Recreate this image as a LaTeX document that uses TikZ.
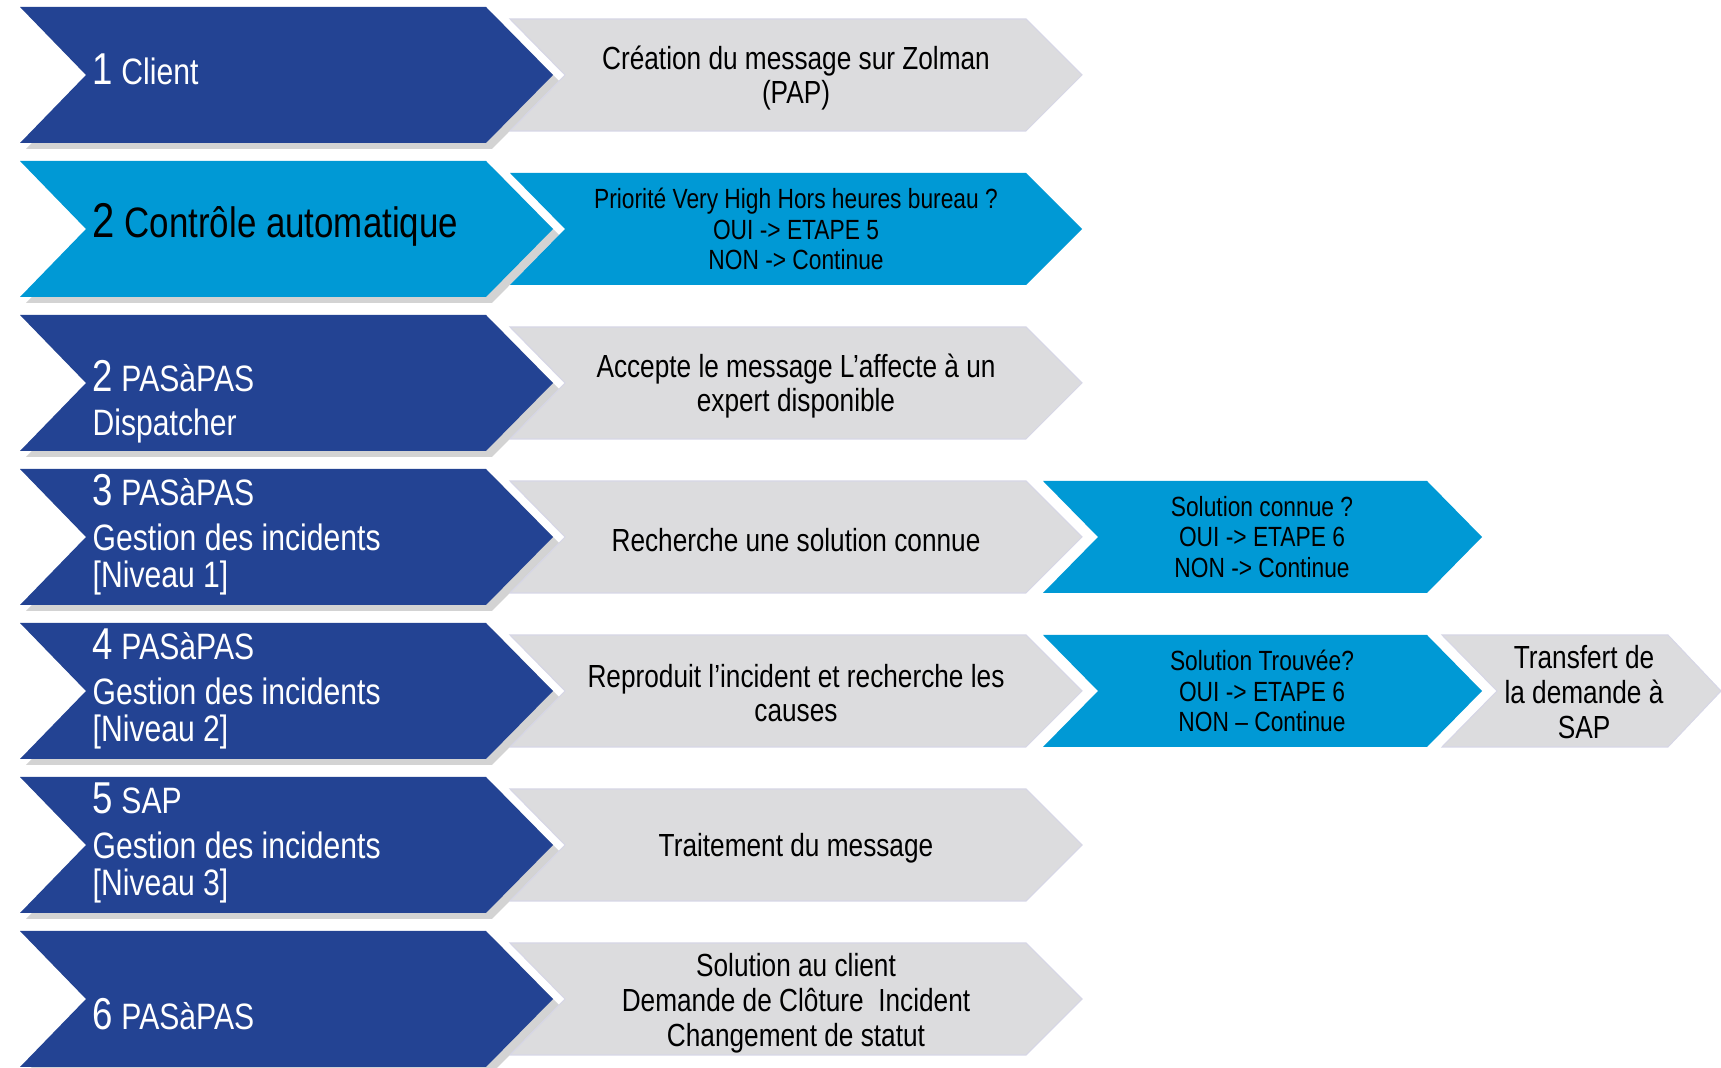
\documentclass[tikz,border=0pt]{standalone}
\usepackage{fontspec}
\setmainfont[FakeStretch=0.82]{Liberation Sans}
\usetikzlibrary{shadows}
\definecolor{darkblue}{RGB}{35,67,147}
\definecolor{lightblue}{RGB}{0,153,213}
\definecolor{lightgray}{RGB}{220,220,222}
\definecolor{grayedge}{RGB}{214,214,230}
\newcommand{\stepnum}[1]{{\fontsize{12.7}{10.6}\selectfont #1}}
\tikzset{
  darkarrow/.style={fill=darkblue, drop shadow={shadow xshift=0.6mm, shadow yshift=-0.6mm, opacity=0.35}},
  bluearrow/.style={fill=lightblue},
  grayarrow/.style={fill=lightgray, draw=grayedge, line width=0.3pt},
  steplabel/.style={anchor=base west, align=left, inner sep=0pt, text=white,
    font=\fontsize{10.45}{10.6}\selectfont},
  graytext/.style={align=center, inner sep=0pt, font=\fontsize{9.1}{9.9}\selectfont},
  bluetext/.style={align=center, inner sep=0pt, font=\fontsize{7.9}{8.6}\selectfont}
}
\begin{document}
\begin{tikzpicture}[x=0.1mm, y=-0.1mm]
\useasboundingbox (0,0) rectangle (1721,1068);
% left column
\fill[darkarrow] (20,7) -- (486,7) -- (553,75) -- (486,143) -- (20,143) -- (86,75) -- cycle;
\fill[darkarrow, fill=lightblue] (20,161) -- (486,161) -- (553,229) -- (486,297) -- (20,297) -- (86,229) -- cycle;
\fill[darkarrow] (20,315) -- (486,315) -- (553,383) -- (486,451) -- (20,451) -- (86,383) -- cycle;
\fill[darkarrow] (20,469) -- (486,469) -- (553,537) -- (486,605) -- (20,605) -- (86,537) -- cycle;
\fill[darkarrow] (20,623) -- (486,623) -- (553,691) -- (486,759) -- (20,759) -- (86,691) -- cycle;
\fill[darkarrow] (20,777) -- (486,777) -- (553,845) -- (486,913) -- (20,913) -- (86,845) -- cycle;
\fill[darkarrow] (20,931) -- (486,931) -- (553,999) -- (486,1067) -- (20,1067) -- (86,999) -- cycle;
% middle column
\filldraw[grayarrow] (510,19) -- (1026,19) -- (1082,75) -- (1026,131) -- (510,131) -- (565,75) -- cycle;
\fill[bluearrow] (510,173) -- (1026,173) -- (1082,229) -- (1026,285) -- (510,285) -- (565,229) -- cycle;
\filldraw[grayarrow] (510,327) -- (1026,327) -- (1082,383) -- (1026,439) -- (510,439) -- (565,383) -- cycle;
\filldraw[grayarrow] (510,481) -- (1026,481) -- (1082,537) -- (1026,593) -- (510,593) -- (565,537) -- cycle;
\filldraw[grayarrow] (510,635) -- (1026,635) -- (1082,691) -- (1026,747) -- (510,747) -- (565,691) -- cycle;
\filldraw[grayarrow] (510,789) -- (1026,789) -- (1082,845) -- (1026,901) -- (510,901) -- (565,845) -- cycle;
\filldraw[grayarrow] (510,943) -- (1026,943) -- (1082,999) -- (1026,1055) -- (510,1055) -- (565,999) -- cycle;
% right columns
\fill[bluearrow] (1043,481) -- (1427,481) -- (1482,537) -- (1427,593) -- (1043,593) -- (1098,537) -- cycle;
\fill[bluearrow] (1043,635) -- (1427,635) -- (1482,691) -- (1427,747) -- (1043,747) -- (1098,691) -- cycle;
\filldraw[grayarrow] (1442,635) -- (1668,635) -- (1721,691) -- (1668,747) -- (1442,747) -- (1497,691) -- cycle;
% step labels (base = last line)
\node[steplabel] (client) at (92,85) {\stepnum{1} Client};
\node[steplabel, text=black, font=\fontsize{12.1}{12}\selectfont] (controle) at (92,238)
  {{\fontsize{13.9}{12}\selectfont 2} Contrôle automatique};
\node[steplabel] (dispatch) at (92,436) {\stepnum{2} PASàPAS\\[2.2pt]Dispatcher};
\node[steplabel] (niveau1) at (92,588) {\stepnum{3} PASàPAS\\[2.2pt]Gestion des incidents\\{}[Niveau 1]};
\node[steplabel] (niveau2) at (92,742) {\stepnum{4} PASàPAS\\[2.2pt]Gestion des incidents\\{}[Niveau 2]};
\node[steplabel] (niveau3) at (92,896) {\stepnum{5} SAP\\[2.2pt]Gestion des incidents\\{}[Niveau 3]};
\node[steplabel] (solution) at (92,1030) {\stepnum{6} PASàPAS};
% actions
\node[graytext] (creation) at (796,78) {Création du message sur Zolman\\(PAP)};
\node[bluetext] (priorite) at (796,229) {Priorité Very High Hors heures bureau ?\\OUI -> ETAPE 5\\NON -> Continue};
\node[graytext] (accepte) at (796,386) {Accepte le message L’affecte à un\\expert disponible};
\node[graytext] (recherche) at (796,540) {Recherche une solution connue};
\node[graytext] (reproduit) at (796,693) {Reproduit l’incident et recherche les\\causes};
\node[graytext] (traitement) at (796,848) {Traitement du message};
\node[graytext] (cloture) at (796,1003) {Solution au client\\Demande de Clôture~~Incident\\Changement de statut};
\node[bluetext] (connue) at (1262,537) {Solution connue ?\\OUI -> ETAPE 6\\NON -> Continue};
\node[bluetext] (trouvee) at (1262,691) {Solution Trouvée?\\OUI -> ETAPE 6\\NON – Continue};
\node[graytext] (transfert) at (1584,692) {Transfert de\\la demande à\\SAP};
\end{tikzpicture}
\end{document}
